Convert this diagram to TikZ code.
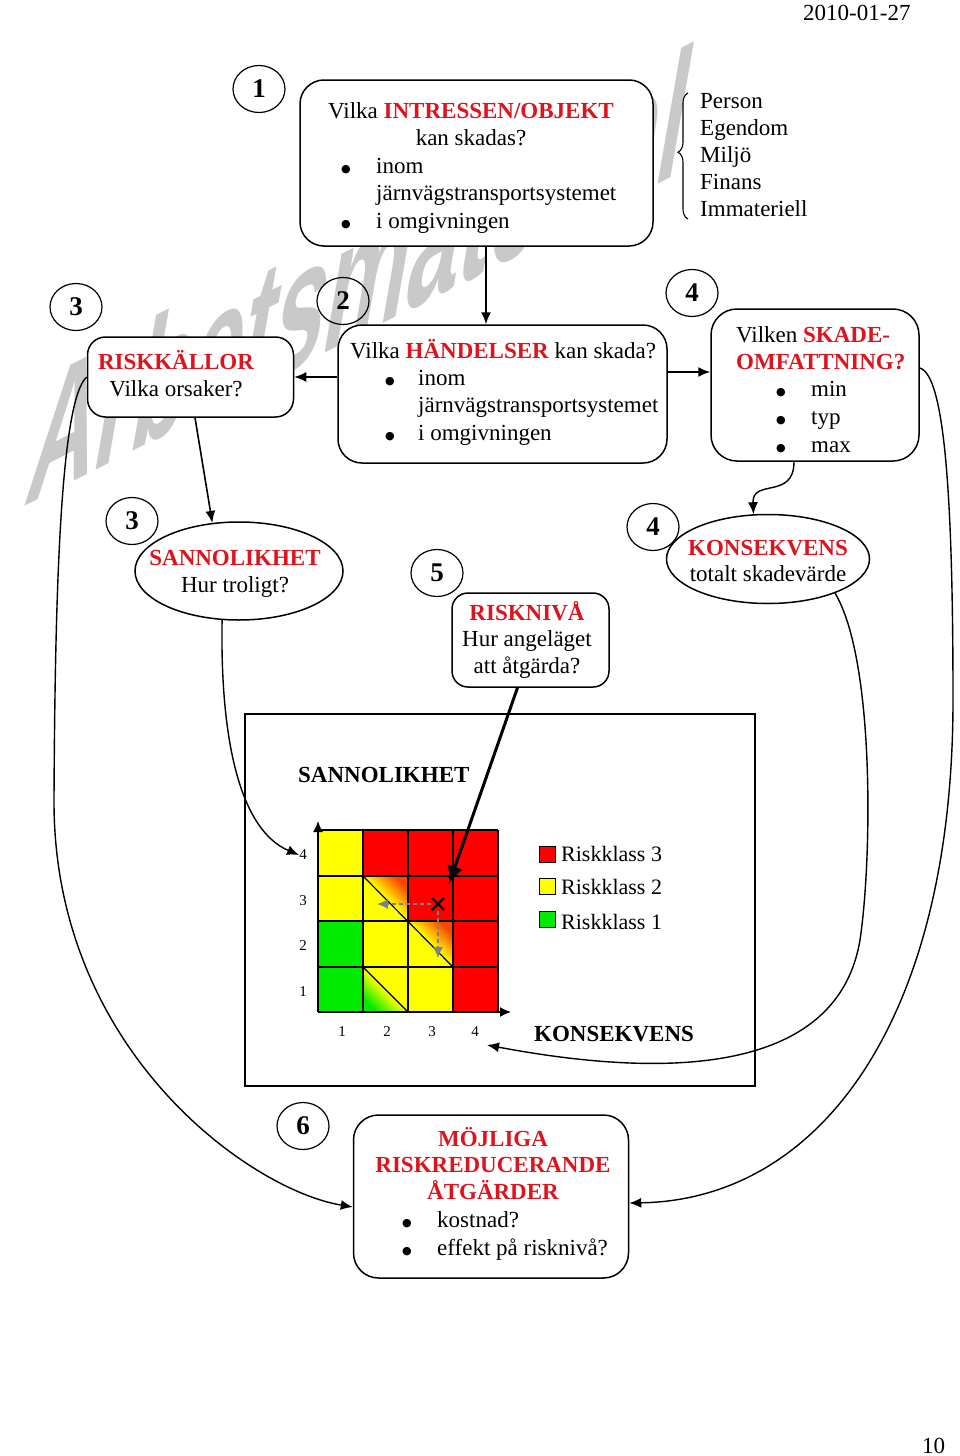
\documentclass[tikz,border=0pt]{standalone}
\usepackage{fontspec}
\setmainfont{Liberation Serif}
\newfontfamily\wmfont{Liberation Sans}
\newfontfamily\dvs{DejaVu Sans}
\usetikzlibrary{arrows.meta,shapes.geometric,decorations.pathreplacing}
\definecolor{txtred}{RGB}{221,20,29}
\definecolor{cellred}{RGB}{255,0,0}
\definecolor{cellyel}{RGB}{255,255,0}
\definecolor{cellgrn}{RGB}{0,235,0}
\definecolor{cellorg}{RGB}{250,70,0}
\newcommand\bodyf{\fontsize{23}{27}\selectfont}
\newcommand\redb[1]{\textcolor{txtred}{\bfseries #1}}
\newcommand\bul[1]{\makebox[#1][l]{\raisebox{0.5pt}{\dvs\fontsize{11}{11}\selectfont ●}}}
\begin{document}
\begin{tikzpicture}[x=1pt,y=-1pt,
  box/.style={draw, line width=1.5pt, rounded corners=24pt, fill=white, inner sep=0pt},
  numc/.style={draw, ellipse, line width=1.2pt, minimum width=52pt, minimum height=47pt, inner sep=0pt, font=\fontsize{27}{27}\selectfont\bfseries},
  oval/.style={draw, ellipse, line width=1.5pt, fill=white, inner sep=0pt},
  tl/.style={anchor=base west, inner sep=0pt, font=\bodyf},
  tc/.style={anchor=base, inner sep=0pt, font=\bodyf},
  conn/.style={line width=1.6pt, -{Latex[length=12pt,width=10pt]}},
  curv/.style={line width=1.4pt, -{Latex[length=12pt,width=10pt]}},
  lbl/.style={inner sep=0pt, font=\fontsize{15}{15}\selectfont},
  garr/.style={draw=gray, line width=1.4pt, dash pattern=on 4pt off 3pt, -{Latex[length=11pt,width=10pt]}},
  legsq/.style={draw, line width=0.8pt, minimum size=16pt, inner sep=0pt},
]
\useasboundingbox (0,0) rectangle (960,1456);
\fill[white] (0,0) rectangle (960,1456);

% watermark
\node[font=\wmfont\bfseries\fontsize{105}{105}\selectfont, text=gray!42, anchor=base west, inner sep=0pt, rotate=27, xslant=0.75, yscale=1.45] (wm) at (22,508) {Arbetsmaterial};

% header / footer
\node[tl] (date) at (803,20) {2010-01-27};
\node[tl] (pg) at (922,1453) {10};

% step numbers
\node[numc] (n1) at (259,89) {1};
\node[numc] (n2) at (343,301) {2};
\node[numc] (n3a) at (76,307) {3};
\node[numc] (n4a) at (692,293) {4};
\node[numc] (n3b) at (132,521) {3};
\node[numc] (n4b) at (653,527) {4};
\node[numc] (n5) at (437,573) {5};
\node[numc] (n6) at (303,1126) {6};

% box 1
\node[box, minimum width=353pt, minimum height=166pt] (b1) at (476.5,163) {};
\node[tl] (b1t1) at (328,118) {Vilka \redb{INTRESSEN/OBJEKT}};
\node[tc] (b1t2) at (471,145) {kan skadas?};
\node[tl] (b1t3) at (341,173) {\bul{35pt}inom};
\node[tl] (b1t4) at (376,200) {järnvägstransportsystemet};
\node[tl] (b1t5) at (341,228) {\bul{35pt}i omgivningen};

% brace list
\coordinate (brB) at (688,219);
\coordinate (brT) at (688,93);
\draw[line width=1.1pt, decorate, decoration={brace, amplitude=10pt, aspect=0.53}] (brB) -- (brT);
\node[tl] (p1) at (700,108) {Person};
\node[tl] (p2) at (700,135) {Egendom};
\node[tl] (p3) at (700,162) {Miljö};
\node[tl] (p4) at (700,189) {Finans};
\node[tl] (p5) at (700,216) {Immateriell};

% box 2
\node[box, minimum width=329pt, minimum height=138pt] (b2) at (502.5,394) {};
\node[tl] (b2t1) at (350,358) {Vilka \redb{HÄNDELSER} kan skada?};
\node[tl] (b2t2) at (385,385) {\bul{33pt}inom};
\node[tl] (b2t3) at (418,412) {järnvägstransportsystemet};
\node[tl] (b2t4) at (385,440) {\bul{33pt}i omgivningen};

% riskkällor
\node[box, minimum width=206pt, minimum height=80pt, rounded corners=18pt] (rk) at (190.5,377) {};
\node[tc] (rkt1) at (176,369) {\redb{RISKKÄLLOR}};
\node[tc] (rkt2) at (176,396) {Vilka orsaker?};

% skadeomfattning
\node[box, minimum width=208pt, minimum height=152pt, rounded corners=26pt] (sk) at (815,385) {};
\node[tl] (skt1) at (736,342) {Vilken \redb{SKADE-}};
\node[tl] (skt2) at (736,369) {\redb{OMFATTNING?}};
\node[tl] (skt3) at (776,396) {\bul{35pt}min};
\node[tl] (skt4) at (776,424) {\bul{35pt}typ};
\node[tl] (skt5) at (776,452) {\bul{35pt}max};

% sannolikhet
\node[oval, minimum width=208pt, minimum height=98pt] (sanno) at (239,571) {};
\node[tc] (sat1) at (235,565) {\redb{SANNOLIKHET}};
\node[tc] (sat2) at (235,592) {Hur troligt?};

% konsekvens
\node[oval, minimum width=203pt, minimum height=89pt] (kons) at (768,559) {};
\node[tc] (kot1) at (768,555) {\redb{KONSEKVENS}};
\node[tc] (kot2) at (768,581) {totalt skadevärde};

% risknivå
\node[box, minimum width=157pt, minimum height=94pt, rounded corners=16pt] (rn) at (530.5,640) {};
\node[tc] (rnt1) at (527,620) {\redb{RISKNIVÅ}};
\node[tc] (rnt2) at (527,646) {Hur angeläget};
\node[tc] (rnt3) at (527,673) {att åtgärda?};

% frame
\node[draw, line width=1.3pt, minimum width=510pt, minimum height=372pt, inner sep=0pt] (frame) at (500,900) {};
\node[tl, font=\bodyf\bfseries] (hS) at (298,782) {SANNOLIKHET};
\node[tl, font=\bodyf\bfseries] (hK) at (534,1041) {KONSEKVENS};

% grid cells
\fill[cellyel] (318,830) rectangle (363,876);
\fill[cellred] (363,830) rectangle (498,876);
\fill[cellyel] (318,876) rectangle (408,921);
\fill[cellred] (408,876) rectangle (498,921);
\fill[cellgrn] (318,921) rectangle (363,967);
\fill[cellyel] (363,921) rectangle (453,967);
\fill[cellred] (453,921) rectangle (498,967);
\fill[cellgrn] (318,967) rectangle (363,1012);
\fill[cellyel] (363,967) rectangle (453,1012);
\fill[cellred] (453,967) rectangle (498,1012);
\shade[top color=cellorg, bottom color=cellyel, middle color=cellyel, shading angle=-45] (363,876) -- (408,876) -- (408,921) -- cycle;
\shade[top color=cellorg, bottom color=cellyel, middle color=cellyel, shading angle=-45] (408,921) -- (453,921) -- (453,967) -- cycle;
\shade[top color=cellyel, bottom color=cellgrn, middle color=cellyel, shading angle=-45] (363,967) -- (363,1012) -- (408,1012) -- cycle;
\foreach \gx in {318,363,408,453,498} \draw[line width=1.2pt] (\gx,830) -- (\gx,1012);
\foreach \gy in {830,876,921,967,1012} \draw[line width=1.2pt] (318,\gy) -- (498,\gy);
\draw[line width=1.2pt] (363,876) -- (453,967);
\draw[line width=1.2pt] (363,967) -- (408,1012);

% axes
\coordinate (org) at (318,1012);
\coordinate (ytip) at (318,821);
\coordinate (xtip) at (511,1012);
\draw[line width=1.5pt, -{Latex[length=11pt,width=10pt]}] (org) -- (ytip);
\draw[line width=1.5pt, -{Latex[length=11pt,width=10pt]}] (org) -- (xtip);
\node[lbl] (yl4) at (303,855) {4};
\node[lbl] (yl3) at (303,901) {3};
\node[lbl] (yl2) at (303,946) {2};
\node[lbl] (yl1) at (303,992) {1};
\node[lbl] (xl1) at (342,1032) {1};
\node[lbl] (xl2) at (387,1032) {2};
\node[lbl] (xl3) at (432,1032) {3};
\node[lbl] (xl4) at (475,1032) {4};

% legend
\node[legsq, fill=cellred] (lg3) at (547,854) {};
\node[legsq, fill=cellyel] (lg2) at (547,886) {};
\node[legsq, fill=cellgrn] (lg1) at (547,919) {};
\node[tl, font=\fontsize{22}{22}\selectfont] (lt3) at (561,861) {Riskklass 3};
\node[tl, font=\fontsize{22}{22}\selectfont] (lt2) at (561,894) {Riskklass 2};
\node[tl, font=\fontsize{22}{22}\selectfont] (lt1) at (561,929) {Riskklass 1};

% risk point
\coordinate (xm) at (438,904);
\coordinate (gl) at (377,902);
\coordinate (gd) at (438,958);
\draw[garr] ([xshift=-7pt]xm) -- (gl |- xm);
\draw[garr] ([yshift=-7pt]xm) -- (gd);
\draw[line width=2.2pt] ([shift={(-6pt,-6pt)}]xm) -- ([shift={(6pt,6pt)}]xm);
\draw[line width=2.2pt] ([shift={(-6pt,6pt)}]xm) -- ([shift={(6pt,-6pt)}]xm);

% connectors
\coordinate (a1) at ([xshift=9.5pt]b1.south);
\draw[conn] (a1) -- (a1 |- b2.north);
\draw[conn] (b2.west |- rk.east) -- (rk.east);
\coordinate (a3) at ([yshift=22pt]b2.east);
\draw[conn] (a3) -- (a3 -| sk.west);
\coordinate (a4) at ([xshift=4.5pt]rk.south);
\draw[conn] (a4) -- (sanno.119);
\coordinate (a5) at ([xshift=-21pt]sk.south);
\draw[curv] (a5) .. controls (794,500) and (752,478) .. (kons.108);
\coordinate (rtip) at (449,884);
\coordinate (a9) at ([xshift=-13pt]rn.south);
\draw[line width=3pt, -{Latex[length=18pt,width=16pt]}] (a9) -- (rtip);
\draw[curv] (sanno.251) .. controls (220,740) and (240,830) .. (yl4.west);
\coordinate (k4) at (487,1045);
\draw[curv] (kons.-27) .. controls (875,660) and (872,860) .. (860,940) .. controls (840,1060) and (700,1085) .. (k4);

% mojliga
\node[box, minimum width=275pt, minimum height=163pt, rounded corners=25pt] (moj) at (491,1196.5) {};
\node[tc] (mt1) at (493,1146) {\redb{MÖJLIGA}};
\node[tc] (mt2) at (493,1172) {\redb{RISKREDUCERANDE}};
\node[tc] (mt3) at (493,1199) {\redb{ÅTGÄRDER}};
\node[tl] (mt4) at (402,1227) {\bul{35pt}kostnad?};
\node[tl] (mt5) at (402,1255) {\bul{35pt}effekt på risknivå?};

\coordinate (a6) at ([yshift=-10.5pt]moj.west);
\draw[curv] (rk.west) .. controls (60,400) and (55,600) .. (54,800) .. controls (53,1050) and (250,1190) .. (a6);
\coordinate (a7) at ([yshift=17pt]sk.east);
\coordinate (a8) at ([yshift=-6.5pt]moj.east);
\draw[curv] (a7) .. controls (945,375) and (953,500) .. (953,700) .. controls (953,1020) and (820,1200) .. (a8);
\end{tikzpicture}
\end{document}
